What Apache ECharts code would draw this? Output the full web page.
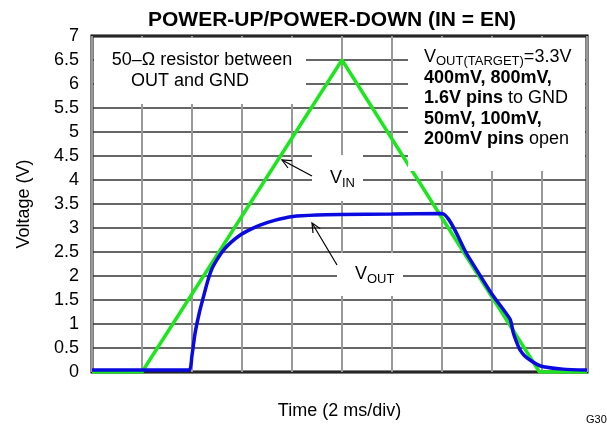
<!DOCTYPE html>
<html>
<head>
<meta charset="utf-8">
<script src="https://cdn.jsdelivr.net/npm/echarts@6/dist/echarts.min.js"></script>
<style>
  html, body { margin: 0; padding: 0; background: #fff; }
  #chart { width: 607px; height: 427px; }
</style>
</head>
<body>
<div id="chart"></div>
<script>
// time in ms (2 ms/div), voltage in V
const vinData = [[0, 0], [2, 0], [10, 6.5], [17.9, 0], [19.8, 0]]
const voutData = [
  [0, 0.04], [3.86, 0.04], [4.0, 0.35], [4.12, 0.8], [4.3, 1.25], [4.46, 1.57], [4.62, 1.88],
  [4.78, 2.13], [5.0, 2.34], [5.26, 2.54], [5.58, 2.71], [5.92, 2.85], [6.3, 2.96],
  [6.72, 3.06], [7.3, 3.16], [8.04, 3.24], [9.0, 3.27], [9.92, 3.28], [12.0, 3.29],
  [14.0, 3.3], [15.0, 2.45], [16.0, 1.62], [16.72, 1.1], [16.86, 0.8], [17.0, 0.6],
  [17.12, 0.46], [17.3, 0.34], [17.52, 0.25], [17.8, 0.16], [18.06, 0.11], [18.84, 0.06], [19.8, 0.04]
]
const yTicks = { min: 0, max: 7, step: 0.5 }
const xTicks = { min: 0, max: 19.8, step: 2 }

const font = 'Liberation Sans, Arial, Helvetica, sans-serif'

const chart = echarts.init(document.getElementById('chart'))

function mask (x, y, w, h) {
  return { type: 'rect', z: 10, shape: { x, y, width: w, height: h }, style: { fill: '#fff' } }
}

function text (x, y, t, size, align) {
  return {
    type: 'text', z: 11, x, y,
    style: { text: t, fill: '#000', font: size + 'px ' + font, textAlign: align || 'left', textVerticalAlign: 'middle' }
  }
}

function arrow (x1, y1, x2, y2) {
  const dx = x2 - x1
  const dy = y2 - y1
  const len = Math.sqrt(dx * dx + dy * dy)
  const ux = dx / len
  const uy = dy / len
  const a = 25 * Math.PI / 180
  const L = 10
  const w1 = [x2 - L * (ux * Math.cos(a) - uy * Math.sin(a)), y2 - L * (uy * Math.cos(a) + ux * Math.sin(a))]
  const w2 = [x2 - L * (ux * Math.cos(-a) - uy * Math.sin(-a)), y2 - L * (uy * Math.cos(-a) + ux * Math.sin(-a))]
  return [
    { type: 'line', z: 11, shape: { x1, y1, x2, y2 }, style: { stroke: '#000', lineWidth: 1.2 } },
    { type: 'polyline', z: 11, shape: { points: [w1, [x2, y2], w2] }, style: { stroke: '#000', lineWidth: 1.2, fill: null } }
  ]
}

chart.setOption({
  animation: false,
  backgroundColor: '#fff',
  title: {
    text: 'POWER-UP/POWER-DOWN (IN = EN)',
    left: 143,
    top: 5,
    textStyle: { fontFamily: font, fontSize: 21, fontWeight: 'bold', color: '#000' }
  },
  grid: {
    left: 92, right: 20, top: 36, bottom: 55,
    show: true, borderColor: '#000', borderWidth: 3
  },
  xAxis: {
    type: 'value',
    min: xTicks.min, max: xTicks.max, interval: xTicks.step,
    name: 'Time (2 ms/div)',
    nameLocation: 'middle',
    nameGap: 30,
    nameTextStyle: { fontFamily: font, fontSize: 18, color: '#000' },
    axisLine: { show: false },
    axisTick: { show: false },
    axisLabel: { show: false },
    splitLine: { lineStyle: { color: '#999', width: 2 } }
  },
  yAxis: {
    type: 'value',
    min: yTicks.min, max: yTicks.max, interval: yTicks.step,
    name: 'Voltage (V)',
    nameLocation: 'middle',
    nameGap: 59,
    nameTextStyle: { fontFamily: font, fontSize: 18, color: '#000' },
    axisLine: { show: false },
    axisTick: { show: false },
    axisLabel: { fontFamily: font, fontSize: 18, color: '#000', margin: 13 },
    splitLine: { lineStyle: { color: '#333', width: 1.5 } }
  },
  series: [
    {
      name: 'VIN',
      type: 'line',
      data: vinData,
      symbol: 'none',
      lineStyle: { color: '#1ee61e', width: 3.5 }
    },
    {
      name: 'VOUT',
      type: 'line',
      data: voutData,
      symbol: 'none',
      smooth: 0.2,
      lineStyle: { color: '#0a0ae0', width: 3.5 }
    }
  ],
  graphic: [
    mask(94, 38, 212, 66),
    mask(408, 38, 177, 133),
    mask(312, 155, 51, 46),
    mask(337, 253, 66, 43),
    text(202, 60, '50\u2013\u03a9 resistor between', 18, 'center'),
    text(190, 81, 'OUT and GND', 18, 'center'),
    {
      type: 'text', z: 11, x: 424, y: 47,
      style: {
        text: '{v|V}{s|OUT(TARGET)}{n|=3.3V}\n{b|400mV, 800mV,}\n{b|1.6V pins}{n| to GND}\n{b|50mV, 100mV,}\n{b|200mV pins}{n| open}',
        fill: '#000',
        font: '18px ' + font,
        rich: {
          v: { fontSize: 18, fontFamily: font, lineHeight: 20.5 },
          n: { fontSize: 18, fontFamily: font, lineHeight: 20.5 },
          s: { fontSize: 13, fontFamily: font, lineHeight: 13, verticalAlign: 'bottom' },
          b: { fontSize: 18, fontFamily: font, fontWeight: 'bold', lineHeight: 20.5 }
        }
      }
    },
    text(330, 178, 'V', 18),
    text(342, 183, 'IN', 13),
    text(355, 274, 'V', 18),
    text(367, 279, 'OUT', 13),
    ...arrow(312, 176, 282, 160),
    ...arrow(337, 265, 312, 223),
    text(586, 420, 'G30', 11)
  ]
})
</script>
</body>
</html>
